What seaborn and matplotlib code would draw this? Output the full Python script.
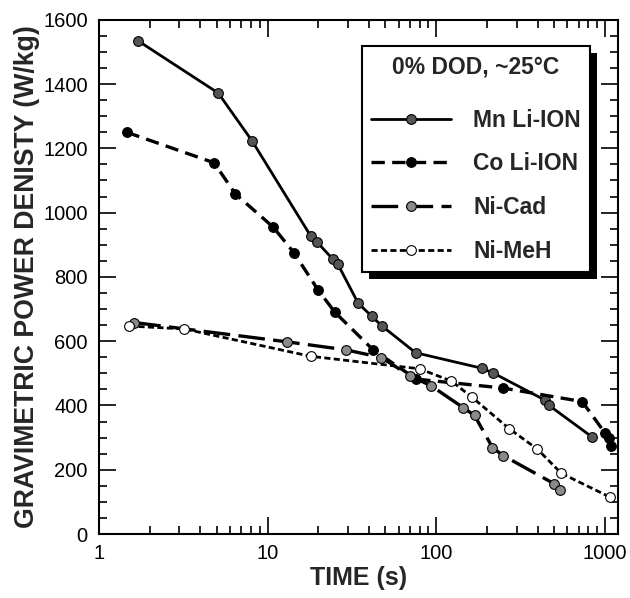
import matplotlib
matplotlib.use('Agg')
import matplotlib.pyplot as plt
import seaborn as sns
from matplotlib.ticker import LogLocator, MultipleLocator, FixedLocator, FixedFormatter, NullFormatter
from matplotlib.patches import Rectangle

# values (time in s, power in W/kg)
mn_t = [1.7, 5.1, 8.1, 18.0, 19.7, 24.3, 26.1, 34.5, 41.4, 47.8, 75.6, 186, 218, 441, 468, 836]
mn_p = [1535, 1372, 1223, 928, 908, 856, 840, 718, 678, 647, 564, 516, 501, 417, 400, 303]
co_t = [1.46, 4.82, 6.45, 10.8, 14.4, 19.9, 25.1, 42.3, 76.3, 250, 736, 1002, 1057, 1091]
co_p = [1250, 1155, 1058, 955, 874, 760, 690, 573, 482, 454, 412, 315, 298, 275]
nicad_t = [1.62, 13.0, 29.2, 47.4, 69.6, 93.5, 145, 169, 216, 250, 503, 541]
nicad_p = [658, 598, 573, 549, 493, 461, 393, 369, 269, 244, 156, 136]
nimh_t = [1.51, 3.21, 18.0, 79.8, 123, 163, 271, 399, 553, 1082]
nimh_p = [647, 638, 553, 514, 476, 426, 328, 264, 189, 114]

x_ticks = [1, 10, 100, 1000]
x_labels = ['1', '10', '100', '1000']

sns.set_style('ticks')
plt.rcParams['font.family'] = ['Liberation Sans', 'DejaVu Sans']

fig = plt.figure(figsize=(6.3, 5.98), dpi=100)
ax = fig.add_axes([0.157, 0.107, 0.824, 0.86])

series = [
    (mn_t, mn_p, 'Mn Li-ION', '-', 2.0, '#555555'),
    (co_t, co_p, 'Co Li-ION', (0, (4, 2.2)), 2.4, 'black'),
    (nicad_t, nicad_p, 'Ni-Cad', (0, (8, 2.5)), 2.4, '#8a8a8a'),
    (nimh_t, nimh_p, 'Ni-MeH', (0, (2.2, 1.2)), 2.0, 'white'),
]
for t, p, name, ls, lw, fc in series:
    sns.lineplot(x=t, y=p, ax=ax, color='black', linestyle=ls, lw=lw,
                 marker='o', markersize=7, markerfacecolor=fc,
                 markeredgecolor='black', markeredgewidth=0.8, label=name)

ax.set_xscale('log')
ax.set_xlim(1, 1200)
ax.set_ylim(0, 1600)
ax.xaxis.set_major_locator(FixedLocator(x_ticks))
ax.xaxis.set_major_formatter(FixedFormatter(x_labels))
ax.xaxis.set_minor_locator(LogLocator(base=10, subs=range(2, 10), numticks=20))
ax.xaxis.set_minor_formatter(NullFormatter())
ax.yaxis.set_major_locator(MultipleLocator(200))
ax.yaxis.set_minor_locator(MultipleLocator(50))

ax.tick_params(which='both', direction='in', top=True, right=True, width=1.2, colors='black')
ax.tick_params(which='major', length=12)
ax.tick_params(which='minor', length=6)
ax.tick_params(axis='x', which='major', labelsize=14.5, pad=7)
ax.tick_params(axis='y', which='major', labelsize=14.5, pad=8)
for s in ax.spines.values():
    s.set_linewidth(1.5)
    s.set_color('black')

ax.set_xlabel('TIME (s)', fontsize=18, fontweight='bold', labelpad=2)
ax.set_ylabel('GRAVIMETRIC POWER DENISTY (W/kg)', fontsize=19.2, fontweight='bold', labelpad=2)

leg = ax.legend(title='0% DOD, ~25°C', loc='upper right', bbox_to_anchor=(0.946, 0.949),
                borderaxespad=0, fancybox=False, frameon=True, edgecolor='black',
                framealpha=1, prop={'weight': 'bold', 'size': 16.5},
                title_fontproperties={'weight': 'bold', 'size': 16.5},
                handlelength=3.5, handletextpad=0.95, labelspacing=0.9,
                borderpad=0.4, numpoints=1)
leg.get_frame().set_linewidth(1.5)
leg.set_zorder(6)
# wider gap between the legend title and the entries
leg._legend_box.sep = 22

# solid black drop shadow behind the legend box
fig.canvas.draw()
bb = leg.get_window_extent().transformed(ax.transAxes.inverted())
shadow = Rectangle((bb.x0 + 7 / 519, bb.y0 - 7 / 514), bb.width, bb.height,
                   transform=ax.transAxes, facecolor='black', edgecolor='none',
                   clip_on=False, zorder=5.5)
ax.add_patch(shadow)

fig.savefig('out.png', dpi=100)
